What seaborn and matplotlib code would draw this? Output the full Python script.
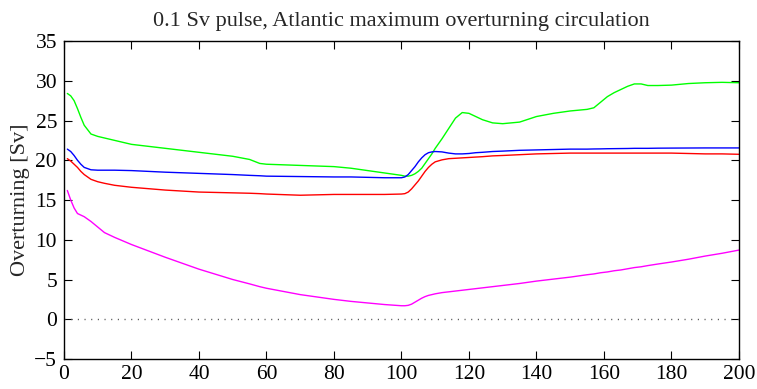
import numpy as np
import pandas as pd
import matplotlib
matplotlib.use("Agg")
import matplotlib.pyplot as plt
import seaborn as sns

# Model years sampled along the run
years = [1, 2, 3, 4, 5, 6, 8, 10, 12, 15, 20, 30, 40, 50, 55, 58, 60, 70, 80, 85,
         90, 95, 100, 101, 102, 103, 104, 105, 106, 107, 108, 109, 110, 112, 114,
         116, 118, 120, 122, 124, 127, 130, 135, 140, 145, 150, 155, 157, 159, 161,
         163, 165, 167, 169, 171, 173, 176, 180, 185, 190, 195, 200]

# Maximum overturning [Sv] for each experiment
green = [28.4, 28.1, 27.5, 26.5, 25.4, 24.4, 23.3, 23.0, 22.8, 22.5, 22.0, 21.5, 21.0,
         20.5, 20.1, 19.6, 19.5, 19.35, 19.2, 19.0, 18.7, 18.4, 18.1, 18.0, 18.0, 18.1,
         18.3, 18.6, 19.0, 19.6, 20.2, 20.8, 21.5, 22.7, 24.0, 25.3, 26.0, 25.9, 25.5,
         25.1, 24.7, 24.6, 24.8, 25.5, 25.9, 26.2, 26.4, 26.6, 27.3, 28.0, 28.5, 28.9,
         29.3, 29.6, 29.6, 29.4, 29.4, 29.45, 29.65, 29.75, 29.8, 29.75]
blue = [21.4, 21.1, 20.6, 20.0, 19.5, 19.1, 18.8, 18.75, 18.75, 18.75, 18.7, 18.5, 18.35,
        18.2, 18.1, 18.05, 18.0, 17.95, 17.9, 17.9, 17.85, 17.8, 17.8, 17.9, 18.2, 18.7,
        19.2, 19.8, 20.3, 20.7, 20.95, 21.05, 21.1, 21.05, 20.9, 20.8, 20.8, 20.85, 20.95,
        21.0, 21.1, 21.15, 21.25, 21.3, 21.35, 21.4, 21.4, 21.42, 21.43, 21.45, 21.46,
        21.47, 21.48, 21.5, 21.5, 21.5, 21.52, 21.53, 21.54, 21.55, 21.55, 21.55]
red = [20.2, 19.9, 19.5, 19.1, 18.6, 18.2, 17.6, 17.3, 17.1, 16.85, 16.6, 16.25, 16.0,
       15.9, 15.85, 15.8, 15.75, 15.6, 15.7, 15.7, 15.7, 15.7, 15.75, 15.8, 16.0, 16.4,
       16.9, 17.4, 18.0, 18.6, 19.1, 19.5, 19.8, 20.05, 20.2, 20.25, 20.3, 20.35, 20.4,
       20.45, 20.55, 20.6, 20.7, 20.8, 20.85, 20.9, 20.9, 20.9, 20.9, 20.9, 20.9, 20.9,
       20.9, 20.9, 20.9, 20.9, 20.9, 20.9, 20.85, 20.8, 20.8, 20.75]
magenta = [16.2, 15.0, 14.0, 13.3, 13.1, 12.9, 12.3, 11.6, 10.9, 10.3, 9.4, 7.8, 6.3, 5.0,
           4.45, 4.1, 3.9, 3.1, 2.5, 2.25, 2.05, 1.85, 1.7, 1.7, 1.75, 1.9, 2.15, 2.4,
           2.65, 2.85, 3.0, 3.1, 3.2, 3.35, 3.45, 3.55, 3.65, 3.75, 3.85, 3.95, 4.1, 4.25,
           4.5, 4.8, 5.05, 5.3, 5.6, 5.7, 5.85, 5.95, 6.1, 6.2, 6.35, 6.5, 6.6, 6.75, 6.95,
           7.2, 7.55, 7.95, 8.3, 8.7]

xticks = [0, 20, 40, 60, 80, 100, 120, 140, 160, 180, 200]
yticks = [-5, 0, 5, 10, 15, 20, 25, 30, 35]

series = {"green": green, "blue": blue, "red": red, "magenta": magenta}
df = pd.concat(
    [pd.DataFrame({"year": years, "Sv": vals, "run": name}) for name, vals in series.items()],
    ignore_index=True,
)
palette = {"green": "#00ff00", "blue": "#0000ff", "red": "#ff0000", "magenta": "#ff00ff"}

sns.set_style("ticks")
plt.rcParams["font.family"] = ["Liberation Serif", "DejaVu Serif"]

fig = plt.figure(figsize=(7.57, 3.89), dpi=100)
ax = fig.add_axes([0.0845, 0.0771, 0.8917, 0.8175])

ax.axhline(0, color="#555555", lw=1.0, linestyle=(0, (0.8, 4.0)), zorder=1)
sns.lineplot(data=df, x="year", y="Sv", hue="run", palette=palette, ax=ax,
             legend=False, linewidth=1.0, estimator=None, sort=False)

ax.set_xlim(0, 200)
ax.set_ylim(-5, 35)
ax.set_xticks(xticks)
ax.set_yticks(yticks)
ax.set_xlabel("")
ax.set_ylabel("Overturning [Sv]", fontsize=16, labelpad=3)
ax.set_title("0.1 Sv pulse, Atlantic maximum overturning circulation", fontsize=16, pad=11)

for side in ["top", "right", "left", "bottom"]:
    ax.spines[side].set_visible(True)
    ax.spines[side].set_linewidth(1.0)
    ax.spines[side].set_color("black")
ax.tick_params(direction="in", length=5.5, width=0.8, top=True, right=True,
               labelsize=15.5, colors="black")
ax.tick_params(axis="x", pad=4)
ax.tick_params(axis="y", pad=5)

fig.savefig("out.png", dpi=100)
